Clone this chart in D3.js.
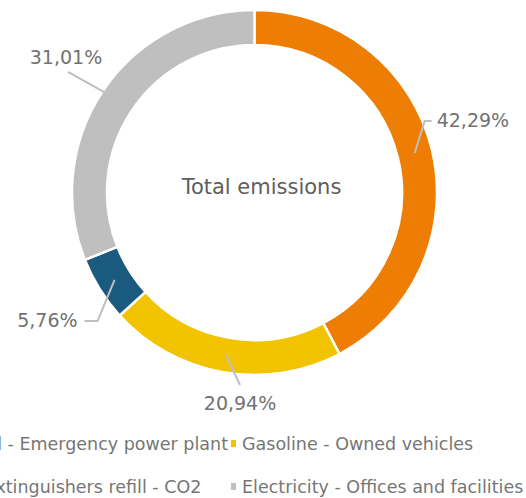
<!DOCTYPE html>
<html>
<head>
<meta charset="utf-8">
<script src="https://cdn.jsdelivr.net/npm/d3@7/dist/d3.min.js"></script>
<style>
  body { margin: 0; background: #fff; }
  svg { display: block; font-family: "DejaVu Sans", "Liberation Sans", Arial, sans-serif; }
</style>
</head>
<body>
<div id="chart"></div>
<script>
// chart values
var categories = ["Diesel - Emergency power plant", "Gasoline - Owned vehicles",
                  "Fire extinguishers refill - CO2", "Electricity - Offices and facilities"];
var shares = [42.29, 20.94, 5.76, 31.01];
var shareLabels = ["42,29%", "20,94%", "5,76%", "31,01%"];
var colors = ["#ED7D03", "#F2C300", "#1A5A7E", "#BFBFBF"];
var centerTitle = "Total emissions";

var width = 526, height = 498;
var cx = 254.5, cy = 192.5, outerR = 182.5, innerR = 147.5;

var svg = d3.select("#chart").append("svg")
	.attr("width", width)
	.attr("height", height);

var data = categories.map(function(c, i){ return {name: c, value: shares[i], label: shareLabels[i], color: colors[i]}; });

var pie = d3.pie().sort(null).value(function(d){ return d.value; });
var arc = d3.arc().innerRadius(innerR).outerRadius(outerR);
var arcs = pie(data);

var g = svg.append("g").attr("transform", "translate(" + cx + "," + cy + ")");

g.selectAll("path.slice")
	.data(arcs)
	.enter()
	.append("path")
	.attr("class", "slice")
	.attr("d", arc)
	.style("fill", function(d){ return d.data.color; })
	.style("stroke", "#fff")
	.style("stroke-width", 2.5);

// leader lines: offsets from the slice centroid (elbow, end) and text anchor
var leader = [
	{pts: [[10, -32], [17, -32]], tx: 22, ty: -33, anchor: "start"},
	{pts: [[14, 30]], tx: 14, ty: 48, anchor: "middle"},
	{pts: [[-17, 41], [-30, 41]], tx: -37, ty: 40, anchor: "end"},
	{pts: [[-50, -28]], tx: -52, ty: -42, anchor: "middle"}
];

arcs.forEach(function(d, i){
	var c = arc.centroid(d);
	var L = leader[i];
	var line = [c].concat(L.pts.map(function(p){ return [c[0] + p[0], c[1] + p[1]]; }));
	g.append("path")
		.attr("d", d3.line()(line))
		.style("fill", "none")
		.style("stroke", "#BFBFBF")
		.style("stroke-width", 2);
	g.append("text")
		.attr("x", c[0] + L.tx)
		.attr("y", c[1] + L.ty)
		.attr("dy", "0.35em")
		.attr("text-anchor", L.anchor)
		.style("font-size", "19px")
		.style("fill", "#727272")
		.text(d.data.label);
});

g.append("text")
	.attr("x", 7)
	.attr("y", -6)
	.attr("dy", "0.35em")
	.attr("text-anchor", "middle")
	.style("font-size", "21px")
	.style("fill", "#5E5E5E")
	.text(centerTitle);

// legend, two columns, first column clipped at the left edge
var legendRows = [444, 487];
var col2x = 231;
var col1End = 227;
var probe = svg.append("text").style("font-size", "17.5px").text(categories[0]);
var w0 = probe.node().getComputedTextLength();
probe.remove();
var col1x = col1End - w0 - 10;

data.forEach(function(d, i){
	var row = i < 2 ? 0 : 1;
	var x = (i % 2 == 0) ? col1x : col2x;
	var y = legendRows[row];
	svg.append("rect")
		.attr("x", x)
		.attr("y", y - 4)
		.attr("width", 5)
		.attr("height", 7)
		.style("fill", d.color);
	svg.append("text")
		.attr("x", x + 11)
		.attr("y", y)
		.attr("dy", "0.35em")
		.style("font-size", "17.5px")
		.style("fill", "#767676")
		.text(d.name);
});
</script>
</body>
</html>
